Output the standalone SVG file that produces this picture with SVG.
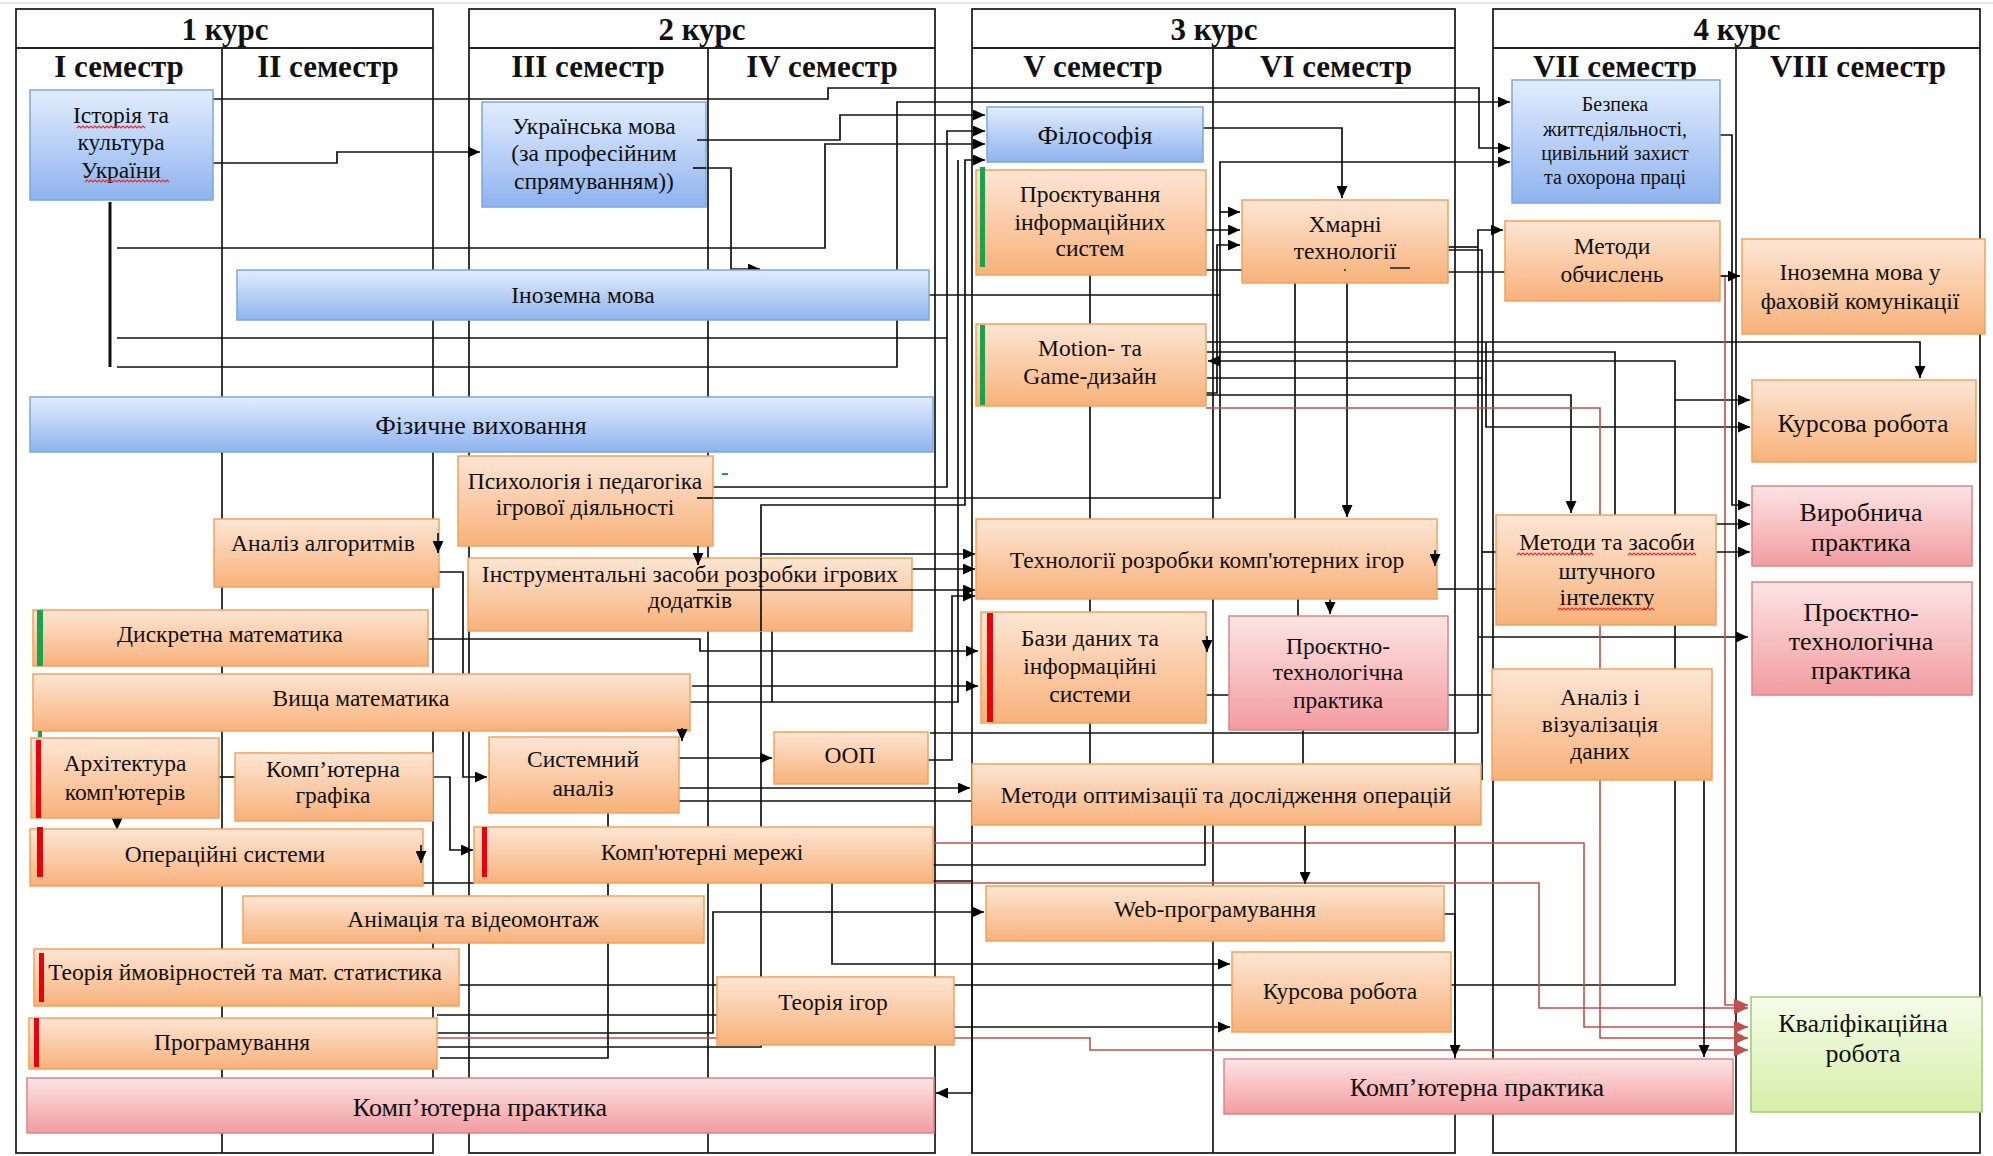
<svg xmlns="http://www.w3.org/2000/svg" width="1993" height="1156" viewBox="0 0 1993 1156">
<style>
.bg{fill:#fff}
.grid{fill:none;stroke:#222;stroke-width:1.8}
.bb{fill:url(#gBlue);stroke:#7ea6dc;stroke-width:1.5}
.bo{fill:url(#gOr);stroke:#f1a25e;stroke-width:1.5}
.bp{fill:url(#gPk);stroke:#d98787;stroke-width:1.5}
.bg2{fill:url(#gGr);stroke:#a3c873;stroke-width:1.5}
text{font-family:"Liberation Serif","Times New Roman",serif;fill:#111;text-anchor:middle;font-size:23.5px}
.h{font-weight:bold;font-size:31px}
.big{font-size:26px}
.sm{font-size:20px}
.c{fill:none;stroke:#111;stroke-width:1.7}
.a{marker-end:url(#ah)}
.cp{fill:none;stroke:#c0504d;stroke-width:1.6}
.ap{marker-end:url(#ahp)}
.gbar{fill:#1ba34b}
.rbar{fill:#e8000b}
.wavy{fill:none;stroke:#e03030;stroke-width:1.2}
</style>
<defs>
<linearGradient id="gBlue" x1="0" y1="0" x2="0" y2="1"><stop offset="0" stop-color="#e2edfd"/><stop offset="1" stop-color="#8fb3ef"/></linearGradient>
<linearGradient id="gOr" x1="0" y1="0" x2="0" y2="1"><stop offset="0" stop-color="#fde6d5"/><stop offset="1" stop-color="#f8b17a"/></linearGradient>
<linearGradient id="gPk" x1="0" y1="0" x2="0" y2="1"><stop offset="0" stop-color="#fde4e4"/><stop offset="1" stop-color="#f29ca0"/></linearGradient>
<linearGradient id="gGr" x1="0" y1="0" x2="0" y2="1"><stop offset="0" stop-color="#f5fce9"/><stop offset="1" stop-color="#d5efa8"/></linearGradient>
<marker id="ah" viewBox="0 0 12 11" refX="12" refY="5.5" markerWidth="12" markerHeight="11" markerUnits="userSpaceOnUse" orient="auto"><path d="M0,0 L12,5.5 L0,11 z" fill="#000"/></marker>
<marker id="ahp" viewBox="0 0 14 13" refX="14" refY="6.5" markerWidth="14" markerHeight="13" markerUnits="userSpaceOnUse" orient="auto"><path d="M0,0 L14,6.5 L0,13 z" fill="#c0504d"/></marker>
</defs>
<rect class="bg" x="0" y="0" width="1993" height="1156"/>
<line x1="0" y1="3" x2="1993" y2="3" stroke="#ccc" stroke-width="1"/>

<g id="grid">
<rect class="grid" x="16" y="9" width="417" height="1144"/>
<line class="grid" x1="16" y1="48" x2="433" y2="48"/>
<line class="grid" x1="222" y1="48" x2="222" y2="1153"/>
<rect class="grid" x="469" y="9" width="466" height="1144"/>
<line class="grid" x1="469" y1="48" x2="935" y2="48"/>
<line class="grid" x1="708" y1="48" x2="708" y2="1153"/>
<rect class="grid" x="972" y="9" width="483" height="1144"/>
<line class="grid" x1="972" y1="48" x2="1455" y2="48"/>
<line class="grid" x1="1213" y1="48" x2="1213" y2="1153"/>
<rect class="grid" x="1493" y="9" width="487" height="1144"/>
<line class="grid" x1="1493" y1="48" x2="1980" y2="48"/>
<line class="grid" x1="1736" y1="48" x2="1736" y2="1153"/>
<text class="h" x="225" y="40">1 курс</text>
<text class="h" x="119" y="77">I семестр</text>
<text class="h" x="328" y="77">II семестр</text>
<text class="h" x="702" y="40">2 курс</text>
<text class="h" x="588" y="77">III семестр</text>
<text class="h" x="822" y="77">IV семестр</text>
<text class="h" x="1214" y="40">3 курс</text>
<text class="h" x="1093" y="77">V семестр</text>
<text class="h" x="1336" y="77">VI семестр</text>
<text class="h" x="1737" y="40">4 курс</text>
<text class="h" x="1615" y="77">VII семестр</text>
<text class="h" x="1858" y="77">VIII семестр</text>
</g>

<g id="connectors">
<path class="c a" d="M213,99 H828 V88 H1479 V148 H1510"/>
<path class="c a" d="M213,163 H337 V152 H480"/>
<path class="c" d="M110,202 V367" style="stroke-width:3"/>
<path class="c a" d="M117,248 H825 V144 H985"/>
<path class="c a" d="M117,338 H947 V131 H985"/>
<path class="c a" d="M117,367 H897 V102 H1510"/>
<path class="c a" d="M706,168 H731 V269 H760"/>
<path class="c" d="M713,487 H947 V338"/>
<path class="c a" d="M713,498 H1220 V162 H1510"/>
<path class="c" d="M929,295 H1220"/>
<path class="c a" d="M437,1047 H761 V505 H965 V160 H985"/>
<path class="c a" d="M761,554 H975"/>
<path class="c a" d="M912,569 H975"/>
<path class="c a" d="M428,639 H700 V651 H978"/>
<path class="c a" d="M692,686 H978"/>
<path class="c" d="M688,702 H958 V160"/>
<path class="c" d="M772,631 V702"/>
<path class="c a" d="M439,572 H463 V777 H487"/>
<path class="c" d="M219,777 H235"/>
<path class="c a" d="M117,818 V830"/>
<path class="c a" d="M433,777 H450 V850 H473"/>
<path class="c" d="M423,883 H475"/>
<path class="c" d="M459,985 H1232"/>
<path class="c a" d="M1451,985 H1675 V361 H1208"/>
<path class="c a" d="M1675,400 H1750"/>
<path class="c a" d="M954,1027 H1230"/>
<path class="c" d="M437,1015 H717"/>
<path class="c a" d="M437,1033 H713 V912 H984"/>
<path class="cp ap" d="M437,1038 H1090 V1050 H1748"/>
<path class="c" d="M440,1058 H608 V813"/>
<path class="c a" d="M832,883 V964 H1230"/>
<path class="cp ap" d="M929,843 H1584 V1027 H1748"/>
<path class="cp ap" d="M933,883 H1539 V1008 H1748"/>
<path class="c a" d="M852,881 H972 V1093 H936"/>
<path class="c" d="M933,865 H1205 V825"/>
<path class="c a" d="M675,788 H970"/>
<path class="c" d="M673,801 H972"/>
<path class="c a" d="M679,758 H772"/>
<path class="c a" d="M915,760 H952 V596 H975"/>
<path class="c" d="M930,733 H1478"/>
<path class="c a" d="M1444,914 H1455 V1057"/>
<path class="c a" d="M1305,825 V884"/>
<path class="c" d="M1206,695 H1492"/>
<path class="c" d="M1437,589 H1496"/>
<path class="c a" d="M1330,599 V614"/>
<path class="c a" d="M1347,283 V517"/>
<path class="c" d="M1295,283 V519"/>
<path class="c" d="M1298,599 V616"/>
<path class="c" d="M1303,730 V764"/>
<path class="c a" d="M1200,128 H1342 V198"/>
<path class="c a" d="M1206,230 H1240"/>
<path class="c a" d="M1220,212 H1240"/>
<path class="c a" d="M1206,393 H1217 V245 H1240"/>
<path class="c" d="M1206,270 H1242"/>
<path class="c" d="M1090,275 V764"/>
<path class="c a" d="M1207,342 H1920 V378"/>
<path class="c a" d="M1486,342 V427 H1750"/>
<path class="c" d="M1207,378 H1482"/>
<path class="c" d="M1448,247 H1478"/>
<path class="c a" d="M1478,733 V230 H1503"/>
<path class="c a" d="M1478,637 H1748"/>
<path class="c" d="M1448,272 H1505"/>
<path class="c" d="M1448,250 H1482 V780"/>
<path class="c" d="M1482,552 H1496"/>
<path class="c a" d="M1206,395 H1571 V513"/>
<path class="cp ap" d="M1206,408 H1600 V1038 H1748"/>
<path class="c" d="M1207,352 H1615 V515"/>
<path class="c a" d="M1720,135 H1732 V505 H1750"/>
<path class="cp ap" d="M1720,276 H1725 V1005 H1748"/>
<path class="c a" d="M1720,276 H1740"/>
<path class="c a" d="M1716,524 H1750"/>
<path class="c a" d="M1716,552 H1750"/>
<path class="c a" d="M1704,780 V1057"/>
</g>

<g id="nodes">
<g id="n-istoriia"><rect class="bb" x="30" y="90" width="183" height="110"/><text x="121" y="123">Історія та</text><text x="121" y="150">культура</text><text x="121" y="178">України</text>
<path class="wavy" d="M77,128 l2,-2 l2,2 l2,-2 l2,2 l2,-2 l2,2 l2,-2 l2,2 l2,-2 l2,2 l2,-2 l2,2 l2,-2 l2,2 l2,-2 l2,2 l2,-2 l2,2 l2,-2 l2,2 l2,-2 l2,2 l2,-2 l2,2 l2,-2 l2,2 l2,-2 l2,2 l2,-2 l2,2 l2,-2 l2,2 l2,-2 l2,2"/>
<path class="wavy" d="M85,182 l2,-2 l2,2 l2,-2 l2,2 l2,-2 l2,2 l2,-2 l2,2 l2,-2 l2,2 l2,-2 l2,2 l2,-2 l2,2 l2,-2 l2,2 l2,-2 l2,2 l2,-2 l2,2 l2,-2 l2,2 l2,-2 l2,2 l2,-2 l2,2 l2,-2 l2,2 l2,-2 l2,2 l2,-2 l2,2 l2,-2 l2,2 l2,-2 l2,2 l2,-2 l2,2 l2,-2 l2,2 l2,-2 l2,2"/></g>
<g id="n-ukr"><rect class="bb" x="482" y="102" width="224" height="105"/><text x="594" y="134">Українська мова</text><text x="594" y="161">(за професійним</text><text x="594" y="189">спрямуванням))</text></g>
<g id="n-inozemna"><rect class="bb" x="237" y="270" width="692" height="50"/><text x="583" y="303">Іноземна мова</text></g>
<g id="n-fizychne"><rect class="bb" x="30" y="397" width="903" height="55"/><text class="big" x="481" y="434">Фізичне виховання</text></g>
<g id="n-psykh"><rect class="bo" x="458" y="456" width="255" height="90"/><text x="585" y="489">Психологія і педагогіка</text><text x="585" y="515">ігрової діяльності</text></g>
<g id="n-analiz-alg"><rect class="bo" x="214" y="519" width="225" height="68"/><text x="323" y="551">Аналіз алгоритмів</text></g>
<g id="n-instr"><rect class="bo" x="468" y="558" width="444" height="73"/><text x="690" y="582">Інструментальні засоби розробки ігрових</text><text x="690" y="608">додатків</text></g>
<g id="n-dyskr"><rect class="bo" x="33" y="610" width="395" height="56"/><rect class="gbar" x="37" y="610" width="6" height="56"/><text x="230" y="642">Дискретна математика</text></g>
<g id="n-vyshcha"><rect class="bo" x="33" y="674" width="657" height="57"/><rect class="gbar" x="38" y="731" width="4" height="6"/><text x="361" y="706">Вища математика</text></g>
<g id="n-arkh"><rect class="bo" x="31" y="738" width="188" height="80"/><rect class="rbar" x="36" y="740" width="5" height="78"/><text x="125" y="771">Архітектура</text><text x="125" y="800">комп'ютерів</text></g>
<g id="n-kgraf"><rect class="bo" x="235" y="753" width="198" height="68"/><text x="333" y="777">Комп’ютерна</text><text x="333" y="803">графіка</text></g>
<g id="n-os"><rect class="bo" x="30" y="829" width="393" height="57"/><rect class="rbar" x="37" y="827" width="6" height="50"/><text x="225" y="862">Операційні системи</text></g>
<g id="n-anim"><rect class="bo" x="243" y="896" width="461" height="47"/><text x="473" y="927">Анімація та відеомонтаж</text></g>
<g id="n-tv"><rect class="bo" x="34" y="949" width="425" height="57"/><rect class="rbar" x="39" y="953" width="5" height="49"/><text x="245" y="980">Теорія ймовірностей та мат. статистика</text></g>
<g id="n-prog"><rect class="bo" x="29" y="1018" width="408" height="51"/><rect class="rbar" x="34" y="1018" width="5" height="49"/><text x="232" y="1050">Програмування</text></g>
<g id="n-kprakt1"><rect class="bp" x="27" y="1078" width="907" height="55"/><text class="big" x="480" y="1116">Комп’ютерна практика</text></g>
<g id="n-sysan"><rect class="bo" x="489" y="737" width="190" height="76"/><text x="583" y="767">Системний</text><text x="583" y="796">аналіз</text></g>
<g id="n-oop"><rect class="bo" x="774" y="732" width="154" height="52"/><text x="850" y="763">ООП</text></g>
<g id="n-kmerezhi"><rect class="bo" x="474" y="827" width="459" height="56"/><rect class="rbar" x="482" y="827" width="5" height="50"/><text x="702" y="860">Комп'ютерні мережі</text></g>
<g id="n-filos"><rect class="bb" x="987" y="107" width="216" height="55"/><text class="big" x="1095" y="144">Філософія</text></g>
<g id="n-proekt-is"><rect class="bo" x="976" y="170" width="230" height="105"/><rect class="gbar" x="980" y="167" width="5" height="100"/><text x="1090" y="202">Проєктування</text><text x="1090" y="230">інформаційних</text><text x="1090" y="256">систем</text></g>
<g id="n-motion"><rect class="bo" x="976" y="324" width="230" height="82"/><rect class="gbar" x="980" y="325" width="5" height="80"/><text x="1090" y="356">Motion- та</text><text x="1090" y="384">Game-дизайн</text></g>
<g id="n-khmarni"><rect class="bo" x="1242" y="200" width="206" height="83"/><text x="1345" y="232">Хмарні</text><text x="1345" y="259">технології</text><path d="M1344,270 h2 M1390,268 h20" stroke="#222" stroke-width="1.5"/></g>
<g id="n-tekh-igor"><rect class="bo" x="976" y="519" width="461" height="80"/><text x="1207" y="568">Технології розробки комп'ютерних ігор</text></g>
<g id="n-bazy"><rect class="bo" x="981" y="612" width="225" height="111"/><rect class="rbar" x="987" y="613" width="6" height="109"/><text x="1090" y="646">Бази даних та</text><text x="1090" y="674">інформаційні</text><text x="1090" y="702">системи</text></g>
<g id="n-pt3"><rect class="bp" x="1229" y="616" width="219" height="114"/><text x="1338" y="654">Проєктно-</text><text x="1338" y="680">технологічна</text><text x="1338" y="708">практика</text></g>
<g id="n-metopt"><rect class="bo" x="972" y="764" width="509" height="61"/><text x="1226" y="803">Методи оптимізації та дослідження операцій</text></g>
<g id="n-web"><rect class="bo" x="986" y="886" width="458" height="55"/><text x="1215" y="917">Web-програмування</text></g>
<g id="n-kurs3"><rect class="bo" x="1232" y="952" width="219" height="80"/><text x="1340" y="999">Курсова робота</text></g>
<g id="n-kprakt2"><rect class="bp" x="1224" y="1059" width="509" height="55"/><text class="big" x="1477" y="1096">Комп’ютерна практика</text></g>
<g id="n-teor-igor"><rect class="bo" x="717" y="977" width="237" height="68"/><text x="833" y="1010">Теорія ігор</text></g>
<g id="n-bezpeka"><rect class="bb" x="1512" y="80" width="208" height="123"/><text class="sm" x="1615" y="111">Безпека</text><text class="sm" x="1615" y="136">життєдіяльності,</text><text class="sm" x="1615" y="160">цивільний захист</text><text class="sm" x="1615" y="184">та охорона праці</text></g>
<g id="n-metobch"><rect class="bo" x="1505" y="221" width="215" height="80"/><text x="1612" y="254">Методи</text><text x="1612" y="282">обчислень</text></g>
<g id="n-inoz-fakh"><rect class="bo" x="1742" y="239" width="243" height="95"/><text x="1860" y="280">Іноземна мова у</text><text x="1860" y="309">фаховій комунікації</text></g>
<g id="n-kurs4"><rect class="bo" x="1752" y="380" width="224" height="82"/><text class="big" x="1863" y="432">Курсова робота</text></g>
<g id="n-vyrob"><rect class="bp" x="1752" y="486" width="220" height="80"/><text class="big" x="1861" y="521">Виробнича</text><text class="big" x="1861" y="551">практика</text></g>
<g id="n-pt4"><rect class="bp" x="1752" y="582" width="220" height="113"/><text class="big" x="1861" y="621">Проєктно-</text><text class="big" x="1861" y="650">технологічна</text><text class="big" x="1861" y="679">практика</text></g>
<g id="n-shi"><rect class="bo" x="1496" y="515" width="220" height="110"/><text x="1607" y="550">Методи та засоби</text><text x="1607" y="579">штучного</text><text x="1607" y="605">інтелекту</text>
<path class="wavy" d="M1517,555 l2,-2 l2,2 l2,-2 l2,2 l2,-2 l2,2 l2,-2 l2,2 l2,-2 l2,2 l2,-2 l2,2 l2,-2 l2,2 l2,-2 l2,2 l2,-2 l2,2 l2,-2 l2,2 l2,-2 l2,2 l2,-2 l2,2 l2,-2 l2,2 l2,-2 l2,2 l2,-2 l2,2 l2,-2 l2,2 l2,-2 l2,2 l2,-2 l2,2 l2,-2 l2,2"/>
<path class="wavy" d="M1628,555 l2,-2 l2,2 l2,-2 l2,2 l2,-2 l2,2 l2,-2 l2,2 l2,-2 l2,2 l2,-2 l2,2 l2,-2 l2,2 l2,-2 l2,2 l2,-2 l2,2 l2,-2 l2,2 l2,-2 l2,2 l2,-2 l2,2 l2,-2 l2,2 l2,-2 l2,2 l2,-2 l2,2 l2,-2 l2,2 l2,-2 l2,2"/>
<path class="wavy" d="M1558,610 l2,-2 l2,2 l2,-2 l2,2 l2,-2 l2,2 l2,-2 l2,2 l2,-2 l2,2 l2,-2 l2,2 l2,-2 l2,2 l2,-2 l2,2 l2,-2 l2,2 l2,-2 l2,2 l2,-2 l2,2 l2,-2 l2,2 l2,-2 l2,2 l2,-2 l2,2 l2,-2 l2,2 l2,-2 l2,2 l2,-2 l2,2 l2,-2 l2,2 l2,-2 l2,2 l2,-2 l2,2 l2,-2 l2,2 l2,-2 l2,2 l2,-2 l2,2 l2,-2 l2,2"/></g>
<g id="n-analiz-viz"><rect class="bo" x="1492" y="669" width="220" height="111"/><text x="1600" y="705">Аналіз і</text><text x="1600" y="732">візуалізація</text><text x="1600" y="759">даних</text></g>
<g id="n-kvalif"><rect class="bg2" x="1751" y="997" width="231" height="115"/><text class="big" x="1863" y="1032">Кваліфікаційна</text><text class="big" x="1863" y="1062">робота</text></g>
<rect x="722" y="473" width="6" height="2" fill="#1ba34b"/>
</g>

<g id="connectors-front">
<path class="c a" d="M697,140 H840 V115 H985"/>
<path class="c" d="M693,168 H706"/>
<path class="c" d="M697,498 H713"/>
<path class="c" d="M761,558 V631"/>
<path class="c a" d="M697,590 H975"/>
<path class="c a" d="M698,546 V565"/>
<path class="c a" d="M438,533 V553"/>
<path class="c a" d="M421,845 V863"/>
<path class="c a" d="M682,728 V741"/>
<path class="c a" d="M1435,550 V566"/>
<path class="c a" d="M1207,636 V652"/>
</g>
</svg>
